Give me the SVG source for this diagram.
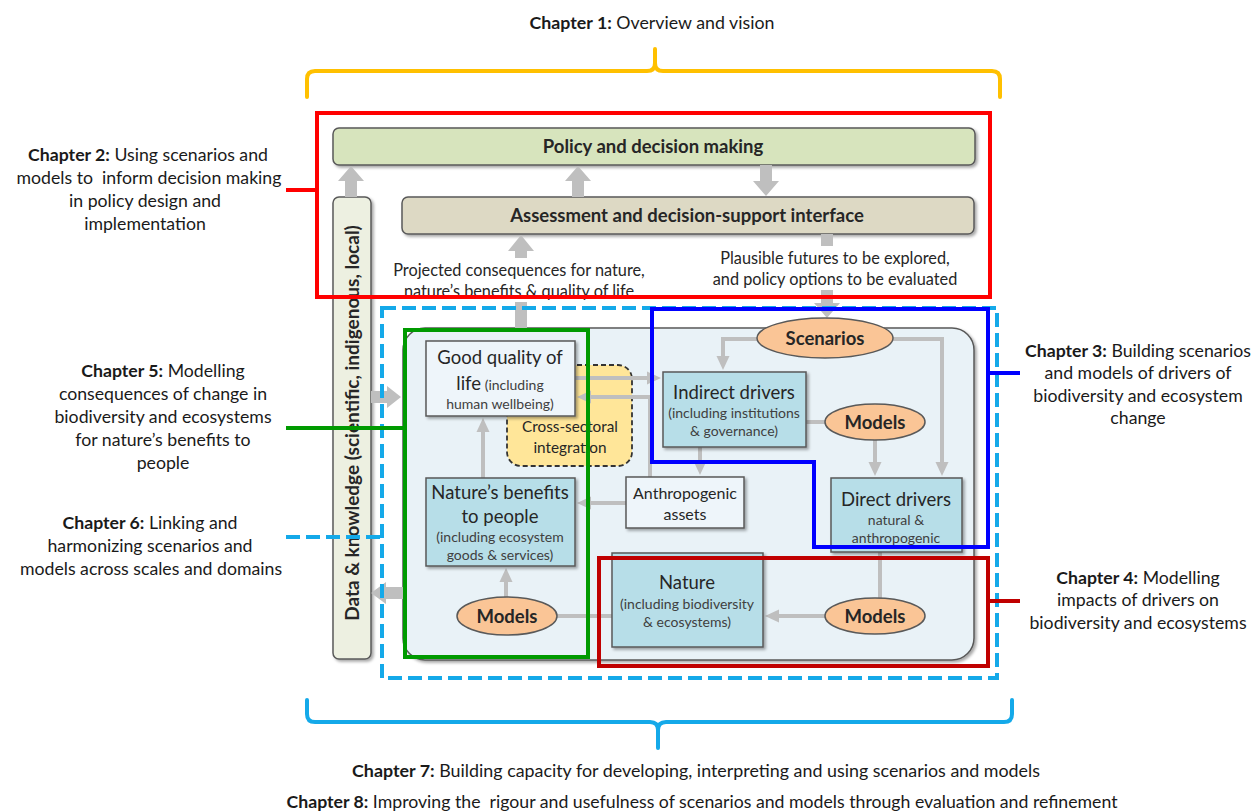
<svg xmlns="http://www.w3.org/2000/svg" width="1255" height="812" viewBox="0 0 1255 812">
<style>
.t{font-family:Lato,"Liberation Sans",sans-serif;fill:#262626}
.b{font-weight:bold}
.ttl{font-size:18.5px;text-anchor:middle}
.sm{font-size:14px;text-anchor:middle;fill:#404040}
.ch{font-size:17.7px;text-anchor:middle;fill:#1a1a1a}
.box{stroke:#595959;stroke-width:1.5}
.lb{fill:#B7DEE8}
.wh{fill:#EEF5FA}
.ov{fill:#FAC596;stroke:#595959;stroke-width:1.5}
.con{stroke:#BFBFBF;stroke-width:4;fill:none}
.big{fill:#BFBFBF}
.fr{fill:none;stroke-width:4}
</style>
<defs>
<filter id="sh" x="-10%" y="-10%" width="130%" height="140%"><feDropShadow dx="2" dy="2" stdDeviation="1.5" flood-color="#000" flood-opacity="0.35"/></filter>
<marker id="ah" markerUnits="userSpaceOnUse" markerWidth="16" markerHeight="16" viewBox="0 0 16 16" refX="4" refY="8" orient="auto"><path d="M0,1.5 L14,8 L0,14.5 z" fill="#BFBFBF"/></marker>
</defs>
<rect width="1255" height="812" fill="#fff"/>

<g id="policy"><rect class="box" x="333" y="128" width="642" height="37" rx="6" fill="#D7E4BD" filter="url(#sh)"/><text class="t b" x="653" y="153" font-size="18.5" text-anchor="middle">Policy and decision making</text></g>
<g id="assessment"><rect class="box" x="402" y="197" width="572" height="37" rx="6" fill="#DDD9C4" filter="url(#sh)"/><text class="t b" x="687" y="222" font-size="18.5" text-anchor="middle">Assessment and decision-support interface</text></g>
<g id="data-knowledge"><rect class="box" x="333" y="197" width="38" height="462" rx="6" fill="#EDF0E1" filter="url(#sh)"/><text class="t b" transform="translate(359,423) rotate(-90)" font-size="19" text-anchor="middle">Data &amp; knowledge (scientific, indigenous, local)</text></g>

<g id="arrow-labels">
<text class="t" x="519" y="276" font-size="16.3" text-anchor="middle">Projected consequences for nature,</text>
<text class="t" x="519" y="297" font-size="16.3" text-anchor="middle">nature’s benefits &amp; quality of life</text>
<text class="t" x="835" y="264" font-size="16.3" text-anchor="middle">Plausible futures to be explored,</text>
<text class="t" x="835" y="285" font-size="16.3" text-anchor="middle">and policy options to be evaluated</text>
</g>

<g id="container"><rect class="box" x="403" y="328" width="571" height="332" rx="22" fill="#E9F2F7" filter="url(#sh)"/></g>
<g id="cross-sectoral"><rect x="507" y="365" width="125" height="101" rx="14" fill="#FFE699" stroke="#333" stroke-width="1.8" stroke-dasharray="5 3"/><text class="t" x="570" y="432" font-size="15.3" text-anchor="middle">Cross-sectoral</text><text class="t" x="570" y="453" font-size="15.3" text-anchor="middle">integration</text></g>

<g id="connectors">
<polygon class="big" points="345,197 345,181 338,181 351,166 364,181 357,181 357,197"/>
<polygon class="big" points="572,197 572,181 565,181 578,166 591,181 584,181 584,197"/>
<polygon class="big" points="760,165 760,181 753,181 766,196 779,181 772,181 772,165"/>
<polygon class="big" points="515,258 515,251 508,251 521,235 534,251 527,251 527,258"/>
<rect class="big" x="515" y="302" width="12" height="26"/>
<rect class="big" x="821" y="234" width="12" height="12"/>
<polygon class="big" points="821,290 821,303 814,303 827,318 840,303 833,303 833,290"/>
<polygon class="big" points="371,391 387,391 387,386 401,397 387,408 387,403 371,403"/>
<polygon class="big" points="403,587 386,587 386,582 371,593 386,604 386,599 403,599"/>
<path class="con" d="M757,339 H723 V360" marker-end="url(#ah)"/>
<path class="con" d="M893,339 H942 V466" marker-end="url(#ah)"/>
<path class="con" d="M806,422 H826"/>
<path class="con" d="M875,440 V466" marker-end="url(#ah)"/>
<path class="con" d="M700,447 V465" marker-end="url(#ah)"/>
<path class="con" d="M880,552 V598"/>
<path class="con" d="M825,616 H775" marker-end="url(#ah)"/>
<path class="con" d="M557,616 H612"/>
<path class="con" d="M506,597 V578" marker-end="url(#ah)"/>
<path class="con" d="M483,478 V428" marker-end="url(#ah)"/>
<path class="con" d="M626,503 H587" marker-end="url(#ah)"/>
<path class="con" d="M575,378 H651" marker-end="url(#ah)"/>
<path class="con" d="M650,477 V397 H587" marker-end="url(#ah)"/>
</g>

<g id="good-quality"><rect class="box wh" x="426" y="341" width="149" height="75" filter="url(#sh)"/><text class="t ttl" x="500" y="363.5">Good quality of</text><text class="t" x="500" y="389.5" text-anchor="middle"><tspan font-size="18.5">life</tspan><tspan font-size="14" fill="#404040"> (including</tspan></text><text class="t sm" x="500" y="408.5">human wellbeing)</text></g>
<g id="natures-benefits"><rect class="box lb" x="426" y="478" width="149" height="88" filter="url(#sh)"/><text class="t ttl" x="500" y="498.5">Nature’s benefits</text><text class="t ttl" x="500" y="522.5">to people</text><text class="t sm" x="500" y="542">(including ecosystem</text><text class="t sm" x="500" y="560">goods &amp; services)</text></g>
<g id="indirect-drivers"><rect class="box lb" x="663" y="372" width="143" height="75" filter="url(#sh)"/><text class="t ttl" x="734" y="398.5">Indirect drivers</text><text class="t sm" x="734" y="418">(including institutions</text><text class="t sm" x="734" y="436">&amp; governance)</text></g>
<g id="anthropogenic-assets"><rect class="box wh" x="626" y="477" width="118" height="51" filter="url(#sh)"/><text class="t" x="685" y="498.5" font-size="16" text-anchor="middle">Anthropogenic</text><text class="t" x="685" y="519.5" font-size="16" text-anchor="middle">assets</text></g>
<g id="direct-drivers"><rect class="box lb" x="831" y="478" width="131" height="74" filter="url(#sh)"/><text class="t ttl" x="896" y="505.5">Direct drivers</text><text class="t sm" x="896" y="525">natural &amp;</text><text class="t sm" x="896" y="543">anthropogenic</text></g>
<g id="nature"><rect class="box lb" x="612" y="553" width="151" height="94" filter="url(#sh)"/><text class="t ttl" x="687" y="588.5">Nature</text><text class="t sm" x="687" y="609">(including biodiversity</text><text class="t sm" x="687" y="627">&amp; ecosystems)</text></g>
<g id="scenarios"><ellipse class="ov" cx="825" cy="338" rx="68" ry="20"/><text class="t b" x="825" y="344.5" font-size="18.5" text-anchor="middle">Scenarios</text></g>
<g id="models-drivers"><ellipse class="ov" cx="875" cy="422" rx="50" ry="18"/><text class="t b" x="875" y="428.5" font-size="18.5" text-anchor="middle">Models</text></g>
<g id="models-impacts"><ellipse class="ov" cx="875" cy="616" rx="50" ry="18"/><text class="t b" x="875" y="622.5" font-size="18.5" text-anchor="middle">Models</text></g>
<g id="models-benefits"><ellipse class="ov" cx="507" cy="616" rx="50" ry="19"/><text class="t b" x="507" y="622.5" font-size="18.5" text-anchor="middle">Models</text></g>

<g id="chapter-frames">
<path class="fr" stroke="#FFC000" stroke-linecap="round" d="M307,97 V79 Q307,71 315,71 H647 Q655,71 655,63 V49 M655,63 Q655,71 663,71 H992 Q1000,71 1000,79 V97"/>
<path class="fr" stroke="#FF0000" d="M317,113 H990 V297 H317 Z M286,190 H317"/>
<path class="fr" stroke="#14A9E9" stroke-dasharray="14 6" d="M382,308 H997 V678 H382 Z M286,537 H382"/>
<path class="fr" stroke="#009A00" d="M405,330 H588 V657 H405 Z M286,428 H405"/>
<path class="fr" stroke="#0000FF" d="M652,309 H988 V547 H814 V462 H652 Z M988,373 H1020"/>
<path class="fr" stroke="#C00000" d="M599,558 H988 V666 H599 Z M988,601 H1020"/>
<path class="fr" stroke="#14A9E9" stroke-linecap="round" d="M307,700 V714 Q307,722 315,722 H650 Q658,722 658,730 V748 M658,730 Q658,722 666,722 H1004 Q1012,722 1012,714 V700"/>
</g>

<g id="chapter-labels">
<text class="t ch" x="652" y="29" textLength="245" lengthAdjust="spacingAndGlyphs"><tspan class="b">Chapter 1:</tspan> Overview and vision</text>
<text class="t ch" x="148" y="161"><tspan class="b">Chapter 2:</tspan> Using scenarios and</text>
<text class="t ch" x="149" y="184" xml:space="preserve">models to  inform decision making</text>
<text class="t ch" x="145" y="207">in policy design and</text>
<text class="t ch" x="145" y="230">implementation</text>
<text class="t ch" x="1138" y="357"><tspan class="b">Chapter 3:</tspan> Building scenarios</text>
<text class="t ch" x="1138" y="379">and models of drivers of</text>
<text class="t ch" x="1138" y="402">biodiversity and ecosystem</text>
<text class="t ch" x="1138" y="424">change</text>
<text class="t ch" x="1138" y="584"><tspan class="b">Chapter 4:</tspan> Modelling</text>
<text class="t ch" x="1138" y="606">impacts of drivers on</text>
<text class="t ch" x="1138" y="629">biodiversity and ecosystems</text>
<text class="t ch" x="163" y="377"><tspan class="b">Chapter 5:</tspan> Modelling</text>
<text class="t ch" x="163" y="400">consequences of change in</text>
<text class="t ch" x="163" y="423">biodiversity and ecosystems</text>
<text class="t ch" x="163" y="446">for nature’s benefits to</text>
<text class="t ch" x="163" y="469">people</text>
<text class="t ch" x="150" y="529"><tspan class="b">Chapter 6:</tspan> Linking and</text>
<text class="t ch" x="150" y="552">harmonizing scenarios and</text>
<text class="t ch" x="151" y="575">models across scales and domains</text>
<text class="t ch" x="696" y="777" textLength="688" lengthAdjust="spacingAndGlyphs"><tspan class="b">Chapter 7:</tspan> Building capacity for developing, interpreting and using scenarios and models</text>
<text class="t ch" x="702" y="808" textLength="831" lengthAdjust="spacingAndGlyphs" xml:space="preserve"><tspan class="b">Chapter 8:</tspan> Improving the  rigour and usefulness of scenarios and models through evaluation and refinement</text>
</g>
</svg>
